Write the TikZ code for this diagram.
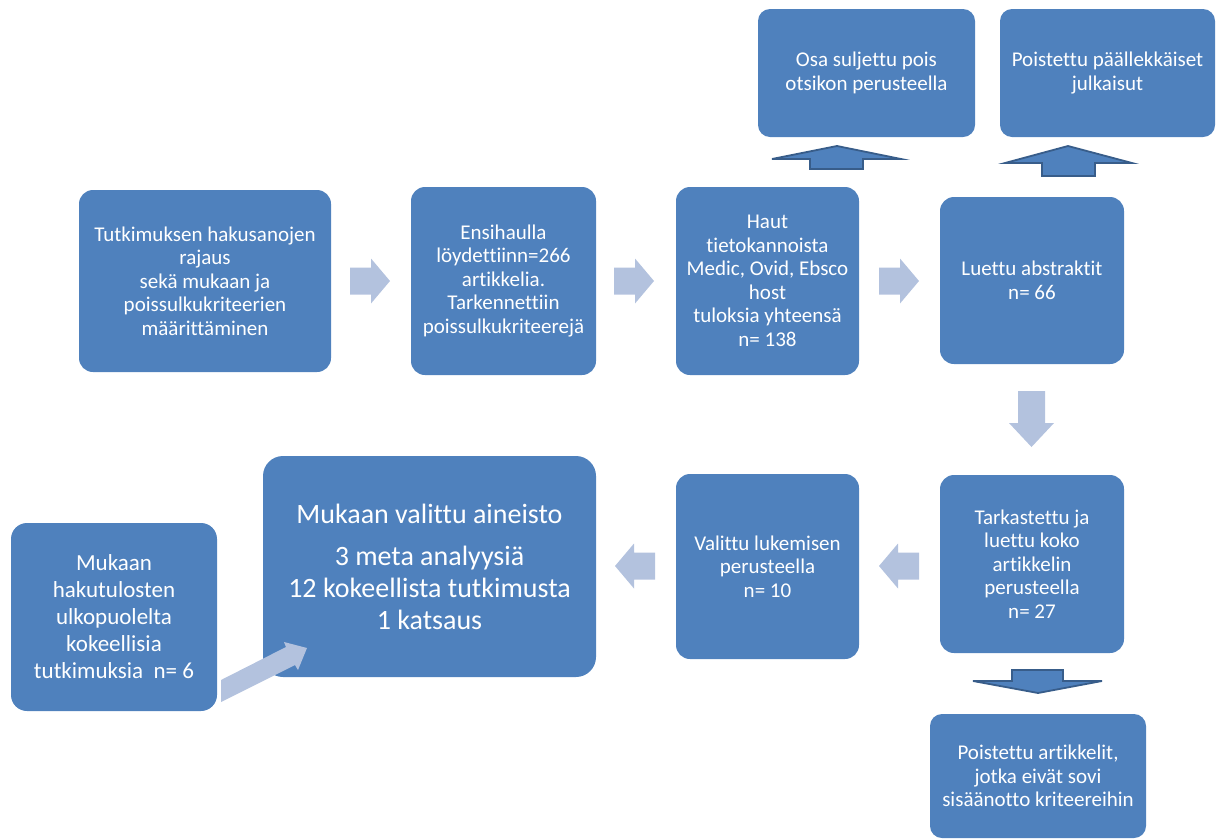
\documentclass[tikz,border=0pt]{standalone}
\usepackage{fontspec}
\setmainfont{Carlito}[Ligatures=NoCommon]
\definecolor{boxblue}{RGB}{79,129,189}
\definecolor{darkedge}{RGB}{56,93,138}
\definecolor{lightarr}{RGB}{179,194,222}
\tikzset{
  box/.style={fill=boxblue, draw=none, rounded corners=14pt, text=white, align=center,
    font=\fontsize{21}{23.5}\selectfont, inner sep=0pt},
  larr/.style={fill=lightarr, draw=none},
  darr/.style={fill=boxblue, draw=darkedge, line width=1.8pt, line join=miter},
  pics/rarrow/.style={code={
    \fill[larr] (-20,-13.5) -- (1,-13.5) -- (1,-22.5) -- (20,0) -- (1,22.5) -- (1,13.5) -- (-20,13.5) -- cycle;}}
}
\begin{document}
\begin{tikzpicture}[x=1pt,y=-1pt]
\useasboundingbox (0,0) rectangle (1224,839);
% boxes
\node[box, minimum width=252pt, minimum height=182pt] (b1) at (205,281)
  {Tutkimuksen hakusanojen\\rajaus\\sekä mukaan ja\\poissulkukriteerien\\määrittäminen};
\node[box, minimum width=185pt, minimum height=188pt] (b2) at (503.5,281)
  {Ensihaulla\\löydettiinn=266\\artikkelia.\\Tarkennettiin\\poissulkukriteerejä};
\node[box, minimum width=183pt, minimum height=188pt] (b3) at (767.5,281)
  {Haut\\tietokannoista\\Medic, Ovid, Ebsco\\host\\tuloksia yhteensä\\n= 138};
\node[box, minimum width=184pt, minimum height=167pt] (b4) at (1032,280.5)
  {Luettu abstraktit\\n= 66};
\node[box, minimum width=217pt, minimum height=128pt, rounded corners=12pt] (b5) at (866.5,73)
  {Osa suljettu pois\\otsikon perusteella};
\node[box, minimum width=215pt, minimum height=128pt, rounded corners=12pt] (b6) at (1107.5,73)
  {Poistettu päällekkäiset\\julkaisut};
\node[box, minimum width=184pt, minimum height=178pt] (b7) at (1032,564)
  {Tarkastettu ja\\luettu koko\\artikkelin\\perusteella\\n= 27};
\node[box, minimum width=183pt, minimum height=185pt] (b8) at (767.5,566.5)
  {Valittu lukemisen\\perusteella\\n= 10};
\node[box, minimum width=333pt, minimum height=221pt, rounded corners=20pt,
  font=\fontsize{28}{32}\selectfont] (b9) at (429.5,566.5)
  {Mukaan valittu aineisto\\[10pt]3 meta analyysiä\\12 kokeellista tutkimusta\\1 katsaus};
\node[box, minimum width=206pt, minimum height=188pt, rounded corners=16pt,
  font=\fontsize{23}{27}\selectfont] (b10) at (114,617)
  {Mukaan\\hakutulosten\\ulkopuolelta\\kokeellisia\\tutkimuksia\ \ n= 6};
\node[box, minimum width=216pt, minimum height=124pt, rounded corners=12pt] (b11) at (1038,776)
  {Poistettu artikkelit,\\jotka eivät sovi\\sisäänotto kriteereihin};
% light flow arrows
\pic at (370,281) {rarrow};
\pic at (634,281) {rarrow};
\pic at (899,281) {rarrow};
\pic[rotate=180] at (899,566) {rarrow};
\pic[rotate=180] at (635,566) {rarrow};
\fill[larr] (1018,391) -- (1045,391) -- (1045,423) -- (1054,423) -- (1031.5,447)
  -- (1009,423) -- (1018,423) -- cycle;
% diagonal arrow
\fill[larr] (221,680) -- (286,647) -- (284,642) -- (307,648) -- (298,670) -- (295,665)
  -- (221,702) -- cycle;
% dark arrows
\draw[darr] (810,169) -- (810,159) -- (772,159) -- (837,146) -- (901,159) -- (863,159)
  -- (863,169) -- cycle;
\draw[darr] (1042,176) -- (1042,163) -- (1005,163) -- (1068,146) -- (1132,163) -- (1095,163)
  -- (1095,176) -- cycle;
\draw[darr] (1012,670) -- (1063,670) -- (1063,681) -- (1102,681) -- (1038,693) -- (973,681)
  -- (1012,681) -- cycle;
\end{tikzpicture}
\end{document}
